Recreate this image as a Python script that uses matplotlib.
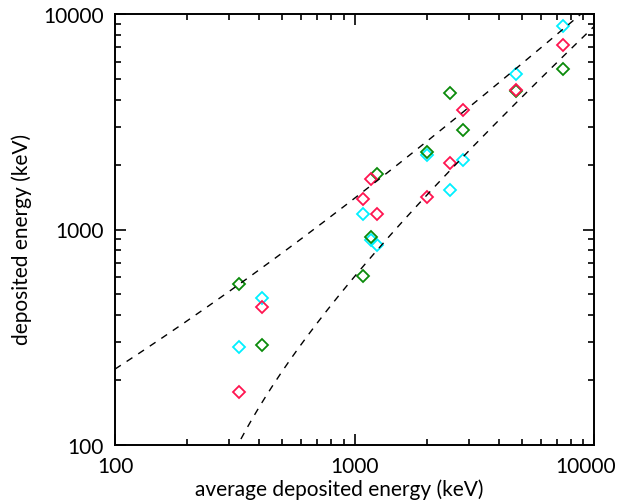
import numpy as np
import matplotlib
matplotlib.use("Agg")
import matplotlib.pyplot as plt
import matplotlib.transforms as mtransforms
from matplotlib.ticker import LogLocator, NullFormatter, FixedLocator, FixedFormatter

plt.rcParams['font.family'] = ['Lato', 'DejaVu Sans']

# average deposited energy (keV) for each group
avg_energy = [330, 411, 1085, 1170, 1240, 2000, 2500, 2830, 4740, 7420]

# deposited energy (keV) per detector, same order as avg_energy
red_dep = [176, 436, 1385, 1715, 1180, 1410, 2035, 3594, 4457, 7200]
cyan_dep = [285, 481, 1180, 895, 849, 2218, 1530, 2101, 5250, 8825]
green_dep = [558, 291, 611, 920, 1810, 2280, 4285, 2898, 4400, 5560]

# spread of the dashed envelope: E +/- k*sqrt(E)
k_spread = 12.5

fig = plt.figure(figsize=(6.21, 5.02), dpi=100)
ax = fig.add_axes([115 / 621, 1 - 446 / 502, 479 / 621, 431 / 502])

mk = dict(marker='D', linestyle='none', markersize=6.5, markerfacecolor='none',
          markeredgewidth=1.3)
ax.plot(avg_energy, cyan_dep, markeredgecolor='#00f0ff', **mk)
ax.plot(avg_energy, green_dep, markeredgecolor='#0a8a0a', **mk)
ax.plot(avg_energy, red_dep, markeredgecolor='#ff1450', **mk)

e = np.logspace(2, 4, 400)
ax.plot(e, e + k_spread * np.sqrt(e), color='black', linestyle=(0, (5, 5)), linewidth=1.0)
lower = e - k_spread * np.sqrt(e)
lower[lower <= 0] = np.nan
ax.plot(e, lower, color='black', linestyle=(0, (5, 5)), linewidth=1.0)

ax.set_xscale('log')
ax.set_yscale('log')
ax.set_xlim(100, 10000)
ax.set_ylim(100, 10000)

for axis in (ax.xaxis, ax.yaxis):
    axis.set_major_locator(FixedLocator([100, 1000, 10000]))
    axis.set_major_formatter(FixedFormatter(['100', '1000', '10000']))
    axis.set_minor_locator(LogLocator(base=10, subs=np.arange(2, 10)))
    axis.set_minor_formatter(NullFormatter())

ax.tick_params(which='both', direction='in', top=True, right=True, width=1.2,
               labelsize=15, colors='black')
ax.tick_params(which='major', length=8, pad=8)
ax.tick_params(which='minor', length=4)
for s in ax.spines.values():
    s.set_linewidth(1.4)

# keep the last x label inside the figure
last = ax.get_xticklabels()[-1]
last.set_transform(last.get_transform() +
                   mtransforms.ScaledTranslation(-8 / 100, 0, fig.dpi_scale_trans))

fig.text(339 / 621, 1 - 490 / 502, 'average deposited energy (keV)', ha='center',
         va='center', fontsize=15)
fig.text(22 / 621, 1 - 239 / 502, 'deposited energy (keV)', ha='center', va='center',
         rotation=90, fontsize=15)

fig.savefig('out.png', dpi=100)
